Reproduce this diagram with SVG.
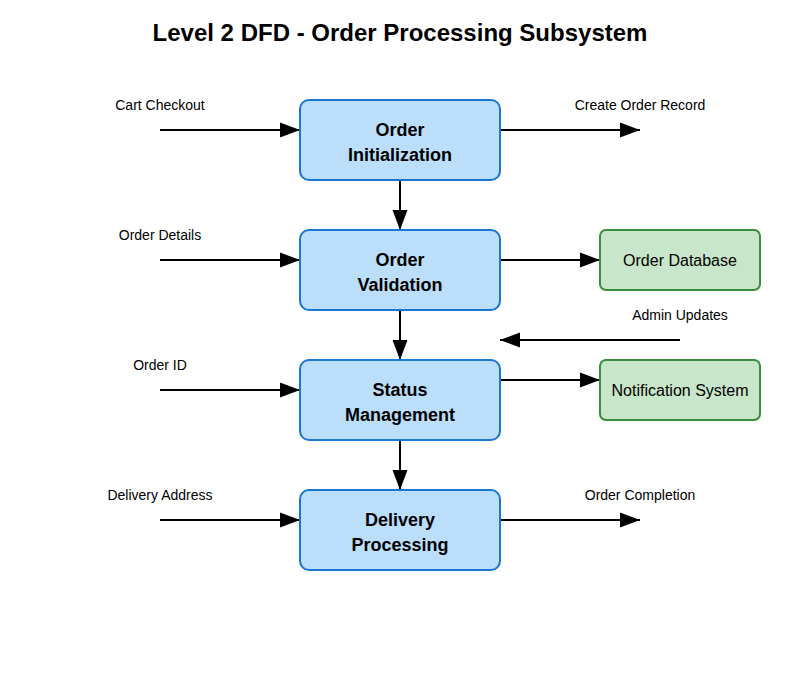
<svg xmlns="http://www.w3.org/2000/svg" width="800" height="700" viewBox="0 0 800 700">
<defs>
<marker id="arr" markerWidth="20" markerHeight="16" refX="20" refY="8" orient="auto" markerUnits="userSpaceOnUse">
<path d="M0,0.5 L20,8 L0,15.5 Z" fill="#000"/>
</marker>
<style>
.proc{fill:#bbdefb;stroke:#1976d2;stroke-width:2}
.store{fill:#c8e6c9;stroke:#388e3c;stroke-width:2}
.pt{font-family:"Liberation Sans",Arial,sans-serif;font-size:18px;font-weight:bold;fill:#000;text-anchor:middle}
.st{font-family:"Liberation Sans",Arial,sans-serif;font-size:16px;fill:#000;text-anchor:middle}
.lbl{font-family:"Liberation Sans",Arial,sans-serif;font-size:14px;fill:#000;text-anchor:middle}
.title{font-family:"Liberation Sans",Arial,sans-serif;font-size:24px;font-weight:bold;fill:#000;text-anchor:middle}
.c{stroke:#000;stroke-width:2;fill:none;marker-end:url(#arr)}
</style>
</defs>
<rect width="800" height="700" fill="#fff"/>
<text class="title" x="400" y="41">Level 2 DFD - Order Processing Subsystem</text>
<g id="connectors">
<line class="c" x1="160" y1="130" x2="300" y2="130"/>
<line class="c" x1="500" y1="130" x2="640" y2="130"/>
<line class="c" x1="400" y1="180" x2="400" y2="230"/>
<line class="c" x1="160" y1="260" x2="300" y2="260"/>
<line class="c" x1="500" y1="260" x2="600" y2="260"/>
<line class="c" x1="400" y1="310" x2="400" y2="360"/>
<line class="c" x1="680" y1="340" x2="500" y2="340"/>
<line class="c" x1="160" y1="390" x2="300" y2="390"/>
<line class="c" x1="500" y1="380" x2="600" y2="380"/>
<line class="c" x1="400" y1="440" x2="400" y2="490"/>
<line class="c" x1="160" y1="520" x2="300" y2="520"/>
<line class="c" x1="500" y1="520" x2="640" y2="520"/>
<text class="lbl" x="160" y="110">Cart Checkout</text>
<text class="lbl" x="640" y="110">Create Order Record</text>
<text class="lbl" x="160" y="240">Order Details</text>
<text class="lbl" x="680" y="320">Admin Updates</text>
<text class="lbl" x="160" y="370">Order ID</text>
<text class="lbl" x="160" y="500">Delivery Address</text>
<text class="lbl" x="640" y="500">Order Completion</text>
</g>
<g id="order-initialization">
<rect class="proc" x="300" y="100" width="200" height="80" rx="9"/>
<text class="pt" x="400" y="136">Order</text>
<text class="pt" x="400" y="161">Initialization</text>
</g>
<g id="order-validation">
<rect class="proc" x="300" y="230" width="200" height="80" rx="9"/>
<text class="pt" x="400" y="266">Order</text>
<text class="pt" x="400" y="291">Validation</text>
</g>
<g id="status-management">
<rect class="proc" x="300" y="360" width="200" height="80" rx="9"/>
<text class="pt" x="400" y="396">Status</text>
<text class="pt" x="400" y="421">Management</text>
</g>
<g id="delivery-processing">
<rect class="proc" x="300" y="490" width="200" height="80" rx="9"/>
<text class="pt" x="400" y="526">Delivery</text>
<text class="pt" x="400" y="551">Processing</text>
</g>
<g id="order-database">
<rect class="store" x="600" y="230" width="160" height="60" rx="6"/>
<text class="st" x="680" y="266">Order Database</text>
</g>
<g id="notification-system">
<rect class="store" x="600" y="360" width="160" height="60" rx="6"/>
<text class="st" x="680" y="396">Notification System</text>
</g>
</svg>
